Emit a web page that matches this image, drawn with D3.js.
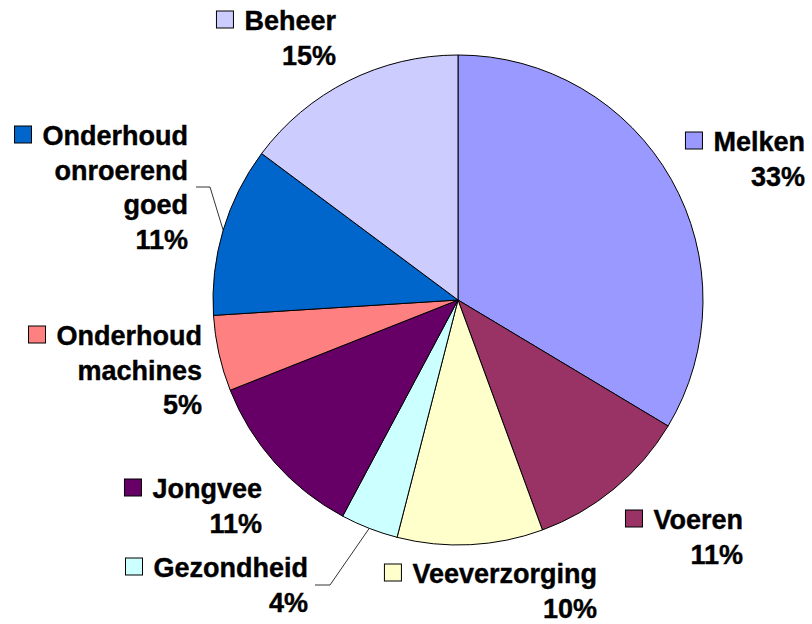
<!DOCTYPE html>
<html><head><meta charset="utf-8">
<script src="https://cdn.jsdelivr.net/npm/d3@7/dist/d3.min.js"></script>
<style>
body{margin:0;background:#fff}
text{font-family:"Liberation Sans",Arial,Helvetica,sans-serif;font-weight:bold;font-size:27px;fill:#000;stroke:#000;stroke-width:0.4px}
</style>
</head><body>
<svg id="c" width="812" height="624"></svg>
<script>
// Data
const categories = ["Melken","Voeren","Veeverzorging","Gezondheid","Jongvee","Onderhoud machines","Onderhoud onroerend goed","Beheer"];
const values = [33.6,10.8,9.6,3.8,11.2,5.0,11.2,14.8];
const percentLabels = ["33%","11%","10%","4%","11%","5%","11%","15%"];
const nameLines = [["Melken"],["Voeren"],["Veeverzorging"],["Gezondheid"],["Jongvee"],["Onderhoud","machines"],["Onderhoud","onroerend","goed"],["Beheer"]];
const colors = ["#9999FF","#993366","#FFFFCC","#CCFFFF","#660066","#FF8080","#0066CC","#CCCCFF"];

// Layout (label right edge x, first baseline y)
const labelAnchors = [[805,151],[743,529],[597,583],[308,577],[262,498],[202,345],[188,145],[336,30]];
const leaderStarts = {3:[[315,585],[330,585]], 6:[[196,187],[210,187]]};
const cx = 458, cy = 300, R = 245, lineH = 34.5, keySize = 17, keyGap = 11;

const svg = d3.select("#c");
const data = categories.map((c,i)=>({name:c, value:values[i], i}));
const pie = d3.pie().sort(null).value(d=>d.value).startAngle(0).endAngle(2*Math.PI);
const arcs = pie(data);
const arc = d3.arc().innerRadius(0).outerRadius(R);

const g = svg.append("g").attr("transform",`translate(${cx},${cy})`);
g.selectAll("path").data(arcs).join("path")
  .attr("d",arc)
  .attr("fill",d=>colors[d.data.i])
  .attr("stroke","#000").attr("stroke-width",1).attr("stroke-linejoin","round");

// Leader lines
arcs.forEach(a=>{
  const st = leaderStarts[a.data.i];
  if(!st) return;
  const m = (a.startAngle+a.endAngle)/2;
  const end = [cx + R*Math.sin(m), cy - R*Math.cos(m)];
  svg.append("path")
    .attr("d", d3.line()([...st, end]))
    .attr("fill","none").attr("stroke","#000").attr("stroke-width",0.8);
});

// Labels
arcs.forEach(a=>{
  const i = a.data.i;
  const [x,y] = labelAnchors[i];
  const lines = nameLines[i].concat([percentLabels[i]]);
  const lg = svg.append("g");
  let firstText;
  lines.forEach((t,k)=>{
    const tx = lg.append("text").attr("x",x).attr("y",y+k*lineH).attr("text-anchor","end").text(t);
    if(k===0) firstText = tx;
  });
  const w = firstText.node().getComputedTextLength();
  lg.append("rect")
    .attr("x", x - w - keyGap - keySize)
    .attr("y", y - 19)
    .attr("width", keySize).attr("height", keySize)
    .attr("fill", colors[i]).attr("stroke","#000").attr("stroke-width",1);
});
</script>
</body></html>
